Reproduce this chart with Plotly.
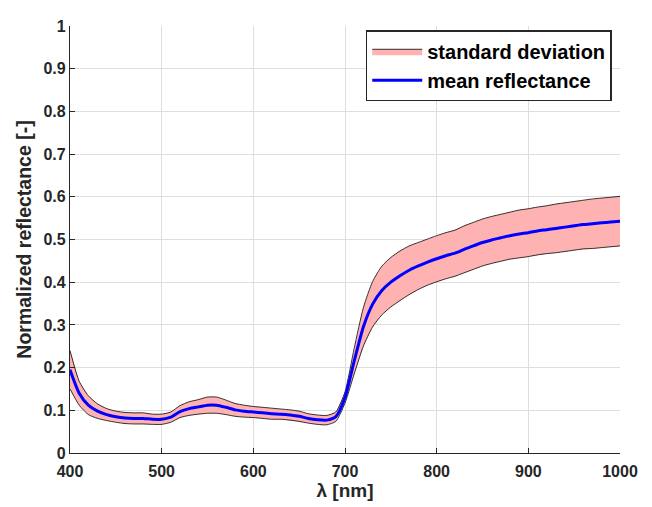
import plotly.graph_objects as go

wavelength = [400, 410, 420, 430, 440, 450, 460, 470, 480, 490,
              500, 510, 520, 530, 540, 550, 560, 570, 580, 590,
              600, 610, 620, 630, 640, 650, 660, 670, 680, 690,
              700, 710, 720, 730, 740, 750, 760, 770, 780, 790,
              800, 810, 820, 830, 840, 850, 860, 870, 880, 890,
              900, 910, 920, 930, 940, 950, 960, 970, 980, 990, 1000]

mean_reflectance = [0.195, 0.140, 0.112, 0.098, 0.090, 0.085, 0.082, 0.081, 0.081, 0.079,
                    0.079, 0.084, 0.097, 0.104, 0.108, 0.112, 0.112, 0.107, 0.101, 0.098,
                    0.096, 0.094, 0.092, 0.091, 0.089, 0.086, 0.081, 0.078, 0.077, 0.085,
                    0.130, 0.215, 0.295, 0.348, 0.380, 0.400, 0.415, 0.428, 0.438, 0.447,
                    0.455, 0.462, 0.468, 0.477, 0.485, 0.493, 0.499, 0.504, 0.509, 0.513,
                    0.516, 0.520, 0.523, 0.526, 0.529, 0.532, 0.535, 0.537, 0.539, 0.541, 0.543]

std_deviation = [0.045, 0.028, 0.022, 0.017, 0.014, 0.013, 0.013, 0.013, 0.013, 0.012,
                 0.012, 0.012, 0.014, 0.016, 0.017, 0.019, 0.019, 0.017, 0.015, 0.014,
                 0.013, 0.013, 0.013, 0.012, 0.012, 0.012, 0.011, 0.011, 0.011, 0.011,
                 0.013, 0.030, 0.045, 0.053, 0.057, 0.058, 0.058, 0.057, 0.055, 0.054,
                 0.054, 0.054, 0.054, 0.055, 0.055, 0.055, 0.055, 0.055, 0.055, 0.056,
                 0.056, 0.056, 0.056, 0.057, 0.057, 0.057, 0.057, 0.058, 0.058, 0.058, 0.058]

x_ticks = [400, 500, 600, 700, 800, 900, 1000]
y_ticks = [0, 0.1, 0.2, 0.3, 0.4, 0.5, 0.6, 0.7, 0.8, 0.9, 1]
y_tick_labels = ["0", "0.1", "0.2", "0.3", "0.4", "0.5", "0.6", "0.7", "0.8", "0.9", "1"]

upper = [m + s for m, s in zip(mean_reflectance, std_deviation)]
lower = [m - s for m, s in zip(mean_reflectance, std_deviation)]

FILL = "rgb(255,178,178)"
FONT = "Arial, Liberation Sans, Helvetica, sans-serif"
AX = "#262626"

fig = go.Figure()

# filled band (no outline)
fig.add_trace(go.Scatter(
    x=wavelength + wavelength[::-1],
    y=upper + lower[::-1],
    fill="toself", fillcolor=FILL, mode="lines",
    line=dict(width=0, color=FILL), showlegend=False, hoverinfo="skip"))
# band edges
fig.add_trace(go.Scatter(x=wavelength, y=upper, mode="lines",
                         line=dict(color="black", width=0.8, shape="spline", smoothing=0.6),
                         showlegend=False))
fig.add_trace(go.Scatter(x=wavelength, y=lower, mode="lines",
                         line=dict(color="black", width=0.8, shape="spline", smoothing=0.6),
                         showlegend=False))
# legend entry for the band
fig.add_trace(go.Scatter(x=[None], y=[None], fill="toself", fillcolor=FILL,
                         mode="lines", line=dict(color="black", width=0.8),
                         name="standard deviation"))
# mean
fig.add_trace(go.Scatter(x=wavelength, y=mean_reflectance, mode="lines",
                         line=dict(color="rgb(0,0,255)", width=3, shape="spline", smoothing=0.6),
                         name="mean reflectance"))

fig.update_layout(
    width=652, height=507,
    margin=dict(l=62, r=40, t=10, b=62),
    paper_bgcolor="white", plot_bgcolor="white",
    font=dict(family=FONT, color=AX),
    legend=dict(x=0.985, y=0.99, xanchor="right", yanchor="top",
                bgcolor="white", bordercolor="#262626", borderwidth=1.5,
                font=dict(family=FONT, size=20, color="black", weight="bold"),
                tracegroupgap=0, itemwidth=50),
)

fig.update_xaxes(
    range=[400, 1000], tickvals=x_ticks,
    showline=True, linecolor=AX, linewidth=1.3, mirror=False,
    showgrid=True, gridcolor="#dedede", gridwidth=1,
    ticks="inside", ticklen=5, tickcolor=AX, tickwidth=1.3,
    ticklabelstandoff=4,
    tickfont=dict(family=FONT, size=16, color=AX, weight="bold"),
    title=dict(text="λ [nm]", standoff=2,
               font=dict(family=FONT, size=19, color=AX, weight="bold")),
    zeroline=False)

fig.update_yaxes(
    range=[0, 1], tickvals=y_ticks, ticktext=y_tick_labels,
    showline=True, linecolor=AX, linewidth=1.3, mirror=False,
    showgrid=True, gridcolor="#dedede", gridwidth=1,
    ticks="inside", ticklen=5, tickcolor=AX, tickwidth=1.3,
    tickfont=dict(family=FONT, size=16, color=AX, weight="bold"),
    title=dict(text="Normalized reflectance [-]", standoff=6,
               font=dict(family=FONT, size=19.5, color=AX, weight="bold")),
    zeroline=False)

fig.write_html("out.html")
